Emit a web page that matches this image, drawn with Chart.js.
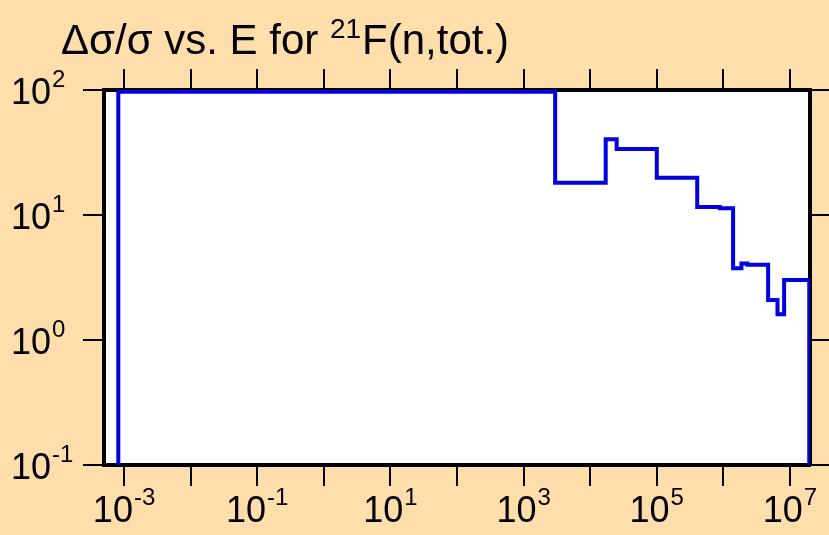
<!DOCTYPE html>
<html><head><meta charset="utf-8">
<script src="https://cdn.jsdelivr.net/npm/chart.js@4.4.1/dist/chart.umd.min.js"></script>
<style>html,body{margin:0;padding:0;background:#FFDEAB;}canvas{display:block}</style>
</head><body>
<canvas id="c" width="829" height="535"></canvas>
<script>
// ---- data ----
const energyEdges = [8.2e-4, 8.2e-4, 2980, 1.71e4, 2.5e4, 1.0e5, 4.05e5, 8.85e5, 1.4e6, 1.87e6, 2.3e6, 4.7e6, 6.5e6, 8.17e6, 1.95e7];
const relUncertainty = [0.1, 97, 18.1, 40.4, 33.7, 19.9, 11.6, 11.3, 3.75, 4.1, 4.0, 2.09, 1.61, 3.02, 0.1];
const xTickDecades = [-3, -2, -1, 0, 1, 2, 3, 4, 5, 6, 7];
const xLabelExponents = ["-3", "-1", "1", "3", "5", "7"];
const yTickDecades = [-1, 0, 1, 2];
const yLabelExponents = ["-1", "0", "1", "2"];
const titleMain = "Δσ/σ vs. E for ";
const titleMass = "21";
const titleRest = "F(n,tot.)";

const FONT = "'Liberation Sans', Arial, sans-serif";
const BG = '#FFDEAB';

const points = energyEdges.map((e, i) => ({x: e, y: relUncertainty[i]}));

const bgPlugin = {
  id: 'bg',
  beforeDraw(chart) {
    const ctx = chart.ctx, a = chart.chartArea;
    ctx.save();
    ctx.fillStyle = BG;
    ctx.fillRect(0, 0, chart.width, chart.height);
    ctx.fillStyle = '#ffffff';
    ctx.fillRect(a.left, a.top, a.right - a.left, a.bottom - a.top);
    ctx.restore();
  }
};

const BASE = 36, EXP = 24;

const labelPlugin = {
  id: 'labels',
  afterDraw(chart) {
    const ctx = chart.ctx, a = chart.chartArea;
    const xs = chart.scales.x, ys = chart.scales.y;
    ctx.save();
    ctx.fillStyle = '#000';
    ctx.textBaseline = 'alphabetic';
    ctx.textAlign = 'left';
    // x labels
    xLabelExponents.forEach(ex => {
      const px = xs.getPixelForValue(Math.pow(10, Number(ex)));
      ctx.font = BASE + 'px ' + FONT;
      const w1 = ctx.measureText('10').width;
      ctx.font = EXP + 'px ' + FONT;
      const w2 = ctx.measureText(ex).width;
      const total = w1 + 1 + w2;
      const start = px - total / 2;
      const base = a.bottom + 57;
      ctx.font = BASE + 'px ' + FONT;
      ctx.fillText('10', start, base);
      ctx.font = EXP + 'px ' + FONT;
      ctx.fillText(ex, start + w1 + 1, base - 17);
    });
    // y labels
    yLabelExponents.forEach(ex => {
      const py = ys.getPixelForValue(Math.pow(10, Number(ex)));
      const start = 11;
      const base = py + 14;
      ctx.font = BASE + 'px ' + FONT;
      ctx.fillText('10', start, base);
      const w = ctx.measureText('10').width;
      ctx.font = EXP + 'px ' + FONT;
      ctx.fillText(ex, start + w + 1, base - 17);
    });
    // title
    ctx.font = '42px ' + FONT;
    let x = 61;
    ctx.fillText(titleMain, x, 54);
    x += ctx.measureText(titleMain).width;
    ctx.font = '28px ' + FONT;
    ctx.fillText(titleMass, x, 38);
    x += ctx.measureText(titleMass).width + 1;
    ctx.font = '42px ' + FONT;
    ctx.fillText(titleRest, x, 54);
    ctx.restore();
  }
};

function decadeTicks(list) {
  return function(scale) { scale.ticks = list.map(e => ({value: Math.pow(10, e)})); };
}
const gridOpts = {drawOnChartArea: false, drawTicks: true, tickLength: 21, color: '#000', lineWidth: 2};
const borderOpts = {display: true, color: '#000', width: 4};

new Chart(document.getElementById('c'), {
  type: 'line',
  data: {
    datasets: [{
      data: points,
      xAxisID: 'x', yAxisID: 'y',
      stepped: true,
      borderColor: '#0000e0',
      borderWidth: 4,
      pointRadius: 0,
      fill: false,
      tension: 0,
      borderJoinStyle: 'miter',
      borderCapStyle: 'butt'
    }]
  },
  options: {
    responsive: false,
    animation: false,
    devicePixelRatio: 1,
    events: [],
    layout: {padding: 0},
    plugins: {legend: {display: false}, title: {display: false}, tooltip: {enabled: false}},
    scales: {
      x: {type: 'logarithmic', position: 'bottom', min: 5e-4, max: 2e7, bounds: 'data', z: 1,
          afterBuildTicks: decadeTicks(xTickDecades), ticks: {display: false},
          grid: gridOpts, border: borderOpts, afterFit: s => { s.height = 70; }},
      x2: {type: 'logarithmic', position: 'top', min: 5e-4, max: 2e7, bounds: 'data', z: 1,
          afterBuildTicks: decadeTicks(xTickDecades), ticks: {display: false},
          grid: gridOpts, border: borderOpts, afterFit: s => { s.height = 90; }},
      y: {type: 'logarithmic', position: 'left', min: 0.1, max: 100, bounds: 'data', z: 1,
          afterBuildTicks: decadeTicks(yTickDecades), ticks: {display: false},
          grid: gridOpts, border: borderOpts, afterFit: s => { s.width = 104; }},
      y2: {type: 'logarithmic', position: 'right', min: 0.1, max: 100, bounds: 'data', z: 1,
          afterBuildTicks: decadeTicks(yTickDecades), ticks: {display: false},
          grid: gridOpts, border: borderOpts, afterFit: s => { s.width = 19; }}
    }
  },
  plugins: [bgPlugin, labelPlugin]
});
</script>
</body></html>
